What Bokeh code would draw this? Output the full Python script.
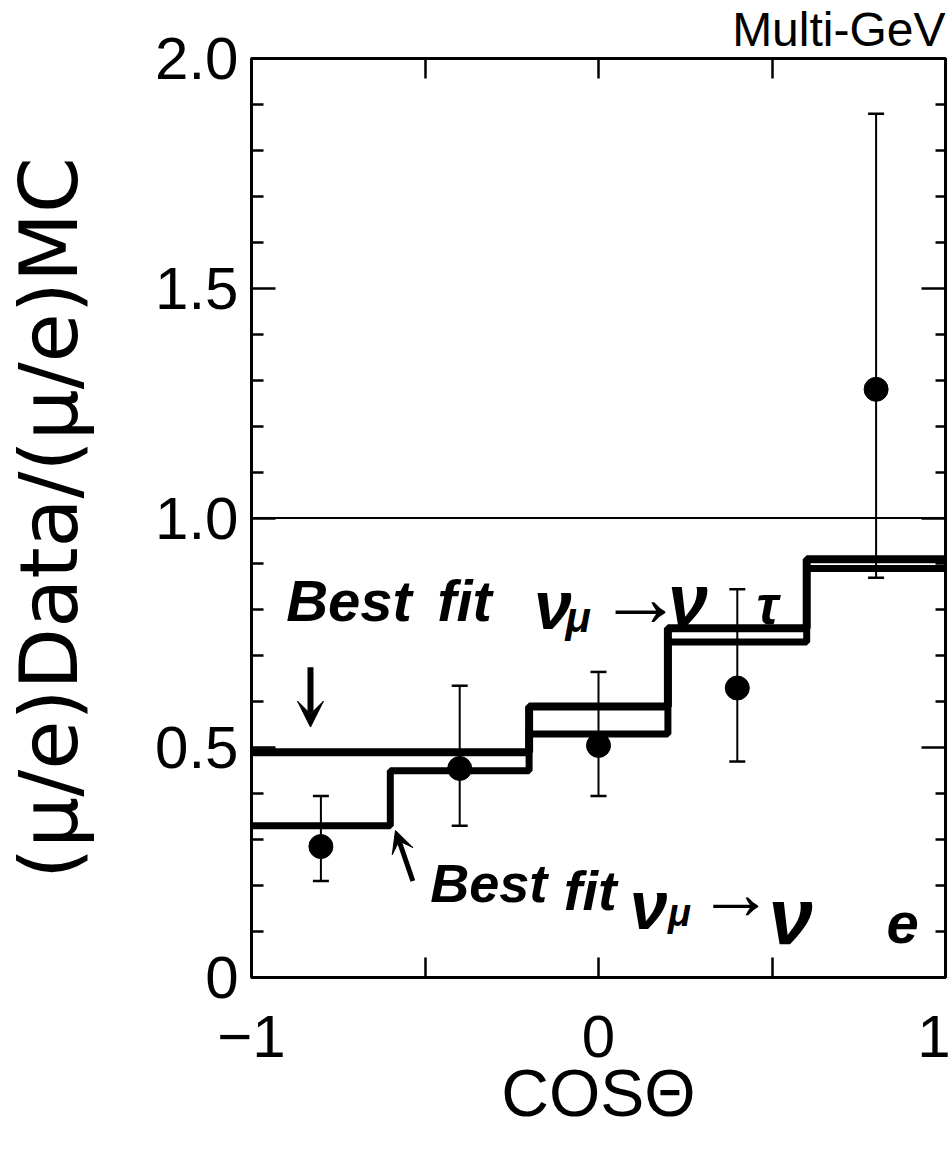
from bokeh.plotting import figure
from bokeh.models import (ColumnDataSource, Whisker, TeeHead, Span, Label, LinearAxis,
                          FixedTicker, Range1d, Arrow, VeeHead, CustomLabelingPolicy, Title)
from bokeh.embed import file_html
from bokeh.resources import INLINE

# ---------------- data ----------------
bin_edges = [-1.0, -0.6, -0.2, 0.2, 0.6, 1.0]
fit_numu_nutau = [0.49, 0.49, 0.59, 0.76, 0.91]
fit_numu_nue = [0.33, 0.45, 0.53, 0.73, 0.89]

cos_theta = [-0.8, -0.4, 0.0, 0.4, 0.8]
ratio = [0.285, 0.455, 0.505, 0.63, 1.28]
err_low = [0.21, 0.33, 0.395, 0.47, 0.87]
err_high = [0.395, 0.635, 0.665, 0.845, 1.88]

ref_level = 1.0

x_ticks = [-1.0, -0.5, 0.0, 0.5, 1.0]
x_tick_labels = {-1.0: "\u22121", 0.0: "0", 1.0: "1"}
y_ticks = [0.0, 0.5, 1.0, 1.5, 2.0]
y_minor_ticks = [0.1, 0.2, 0.3, 0.4, 0.6, 0.7, 0.8, 0.9, 1.1, 1.2, 1.3, 1.4,
                 1.6, 1.7, 1.8, 1.9]
y_tick_labels = {0.0: "0", 0.5: "0.5", 1.0: "1.0", 1.5: "1.5", 2.0: "2.0"}

x_label = "COS\u0398"
y_label = "(\u03bc/e)Data/(\u03bc/e)MC"
corner_text = "Multi-GeV"

# ---------------- figure ----------------
SANS = "Liberation Sans"
HAND = "Liberation Sans"

p = figure(width=950, height=1156, output_backend="svg", toolbar_location=None,
           x_range=Range1d(-1, 1), y_range=Range1d(0, 2),
           min_border_left=248, min_border_right=5, min_border_top=58,
           min_border_bottom=179)
p.xaxis.visible = False
p.yaxis.visible = False
p.grid.visible = False
p.outline_line_color = "black"
p.outline_line_width = 3
p.background_fill_color = "white"
p.border_fill_color = "white"

no_labels = "if (false) yield 0"
labelled_only = "for (const i of indices) if (i % 2 == 0) yield i"


def style_axis(ax, major_in, minor_in):
    ax.axis_line_width = 3
    ax.axis_line_color = "black"
    ax.major_tick_in = major_in
    ax.major_tick_out = 0
    ax.minor_tick_in = minor_in
    ax.minor_tick_out = 0
    ax.major_tick_line_width = 2.5
    ax.minor_tick_line_width = 2.5
    ax.major_tick_line_color = "black"
    ax.minor_tick_line_color = "black"
    ax.major_label_text_color = "black"
    ax.axis_label_text_color = "black"
    ax.axis_label_text_font_style = "normal"


# bottom x axis
xb = LinearAxis(ticker=FixedTicker(ticks=x_ticks, minor_ticks=[]))
style_axis(xb, 20, 0)
xb.major_label_overrides = x_tick_labels
xb.major_label_policy = CustomLabelingPolicy(code=labelled_only)
xb.major_label_text_font = SANS
xb.major_label_text_font_size = "60px"
xb.major_label_standoff = 38
xb.axis_label = x_label
xb.axis_label_text_font = SANS
xb.axis_label_text_font_size = "66px"
xb.axis_label_standoff = -4
for prop in ("major_label_text_line_height", "axis_label_text_line_height"):
    try:
        setattr(xb, prop, 1.0)
    except Exception:
        pass
p.add_layout(xb, "below")

# top x axis (ticks only)
xt = LinearAxis(ticker=FixedTicker(ticks=x_ticks, minor_ticks=[]))
style_axis(xt, 20, 0)
xt.major_label_policy = CustomLabelingPolicy(code=no_labels)
xt.major_label_text_font_size = "1px"
xt.major_label_standoff = 0
p.add_layout(xt, "above")

# corner text
p.add_layout(Title(text=corner_text, align="right", text_font=SANS,
                   text_font_size="48px", text_font_style="normal",
                   text_color="black", standoff=-3), "above")

# left y axis
yl = LinearAxis(ticker=FixedTicker(ticks=y_ticks, minor_ticks=y_minor_ticks))
style_axis(yl, 24, 12)
yl.major_label_overrides = y_tick_labels
yl.major_label_text_font = SANS
yl.major_label_text_font_size = "60px"
yl.major_label_standoff = 13
yl.axis_label = y_label
yl.axis_label_text_font = "DejaVu Sans"
yl.axis_label_text_font_size = "80px"
yl.axis_label_standoff = 56
p.add_layout(yl, "left")

# right y axis (ticks only)
yr = LinearAxis(ticker=FixedTicker(ticks=y_ticks, minor_ticks=y_minor_ticks))
style_axis(yr, 24, 10)
yr.major_label_policy = CustomLabelingPolicy(code=no_labels)
yr.major_label_text_font_size = "1px"
yr.major_label_standoff = 0
p.add_layout(yr, "right")

# reference line
p.add_layout(Span(location=ref_level, dimension="width", line_color="black",
                  line_width=1.8))

# best-fit histograms
p.step(x=bin_edges, y=fit_numu_nue + [fit_numu_nue[-1]], mode="after",
       line_width=7, line_color="black")
p.step(x=bin_edges, y=fit_numu_nutau + [fit_numu_nutau[-1]], mode="after",
       line_width=8, line_color="black")

# data with error bars
src = ColumnDataSource(data=dict(x=cos_theta, y=ratio, lo=err_low, hi=err_high))
p.add_layout(Whisker(source=src, base="x", lower="lo", upper="hi",
                     dimension="height", line_width=2, line_color="black",
                     upper_head=TeeHead(size=16, line_width=2.5, line_color="black"),
                     lower_head=TeeHead(size=16, line_width=2.5, line_color="black")))
p.scatter(x="x", y="y", source=src, size=24, fill_color="black", line_color="black")


# handwritten annotations
def hand(x, y, text, size):
    p.add_layout(Label(x=x, y=y, text=text, text_font=HAND, text_font_size=size,
                       text_font_style="bold italic", text_color="black",
                       text_baseline="alphabetic", text_align="left"))


# upper: Best fit nu_mu -> nu_tau
hand(-0.90, 0.821, "Best", "58px")
hand(-0.465, 0.821, "fit", "58px")
hand(-0.186, 0.810, "\u03bd", "68px")
hand(-0.095, 0.784, "\u03bc", "42px")
hand(0.0, 0.829, "\u2192", "84px")
hand(0.20, 0.821, "\u03bd", "72px")
hand(0.455, 0.810, "\u03c4", "54px")

p.add_layout(Arrow(x_start=-0.83, y_start=0.675, x_end=-0.83, y_end=0.545,
                   line_width=6, line_color="black",
                   end=VeeHead(size=26, fill_color="black", line_color="black")))

# lower: Best fit nu_mu -> nu_e
hand(-0.485, 0.205, "Best", "54px")
hand(-0.10, 0.190, "fit", "56px")
hand(0.09, 0.158, "\u03bd", "68px")
hand(0.20, 0.140, "\u03bc", "38px")
hand(0.285, 0.185, "\u2192", "76px")
hand(0.49, 0.132, "\u03bd", "80px")
hand(0.83, 0.118, "e", "58px")

p.add_layout(Arrow(x_start=-0.535, y_start=0.21, x_end=-0.585, y_end=0.32,
                   line_width=5, line_color="black",
                   end=VeeHead(size=22, fill_color="black", line_color="black")))

open("out.html", "w").write(file_html(p, INLINE))
